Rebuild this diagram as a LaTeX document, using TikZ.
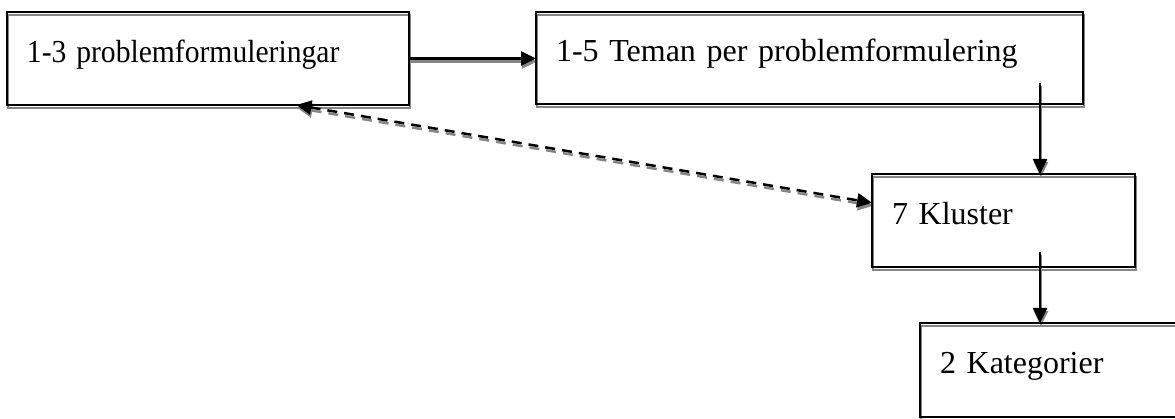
\documentclass[tikz,border=0pt]{standalone}
\usepackage{graphicx}
\usepackage{fontspec}
\setmainfont{Liberation Serif}
\usetikzlibrary{arrows.meta,calc}
\pgfdeclarelayer{background}
\pgfsetlayers{background,main}
\begin{document}
\begin{tikzpicture}[x=1pt,y=-1pt,
  box/.style={draw=black, line width=2.5pt, rectangle, anchor=north west, outer sep=0pt,
    inner xsep=20pt, inner ysep=0pt, text height=21.5pt, text depth=14pt, align=left,
    font=\fontsize{32}{36}\selectfont},
  shade/.style={draw=black!48, line width=2.5pt, transform canvas={shift={(1pt,-3pt)}}},
  tip/.style={-{Triangle[length=15pt,width=14pt]}},
  bitip/.style={{Triangle[length=15pt,width=14pt]}-{Triangle[length=15pt,width=14pt]}},
  conn/.style={draw=black, line width=2.5pt},
  dashes/.style={dash pattern=on 10pt off 7pt}]
\useasboundingbox (0,0) rectangle (1175,419);

\node[box, minimum width=402pt, minimum height=93pt, text width=362pt] (b1) at (7,12) {\scalebox{0.925}[1]{1-3 problemformuleringar}};
\node[box, minimum width=547pt, minimum height=92pt, text width=507pt] (b2) at (536,12) {1-5 Teman per problemformulering};
\node[box, minimum width=263pt, minimum height=93pt, text width=223pt] (b3) at (872,174) {7 Kluster};
\node[box, minimum width=300pt, minimum height=94pt, text width=260pt] (b4) at (920,323) {2 Kategorier};

\coordinate (s1) at (1040,83);
\coordinate (s2) at (1040,252);
\coordinate (d1) at ($(b1.south west)!0.72!(b1.south east)$);
\coordinate (d2) at ($(b3.north west)!0.31!(b3.south west)$);

\begin{pgfonlayer}{background}
  \foreach \n in {b1,b2,b3,b4}
    \draw[shade] (\n.north west) rectangle (\n.south east);
  \draw[shade, tip] (b1.east) -- (b1.east -| b2.west);
  \draw[shade, tip] (s1) -- (s1 |- b3.north);
  \draw[shade, tip] (s2) -- (s2 |- b4.north);
  \draw[shade, bitip, dashes] (d1) -- (d2);
\end{pgfonlayer}

\draw[conn, tip] (b1.east) -- (b1.east -| b2.west);
\draw[conn, tip] (s1) -- (s1 |- b3.north);
\draw[conn, tip] (s2) -- (s2 |- b4.north);
\draw[conn, bitip, dashes] (d1) -- (d2);
\end{tikzpicture}
\end{document}
